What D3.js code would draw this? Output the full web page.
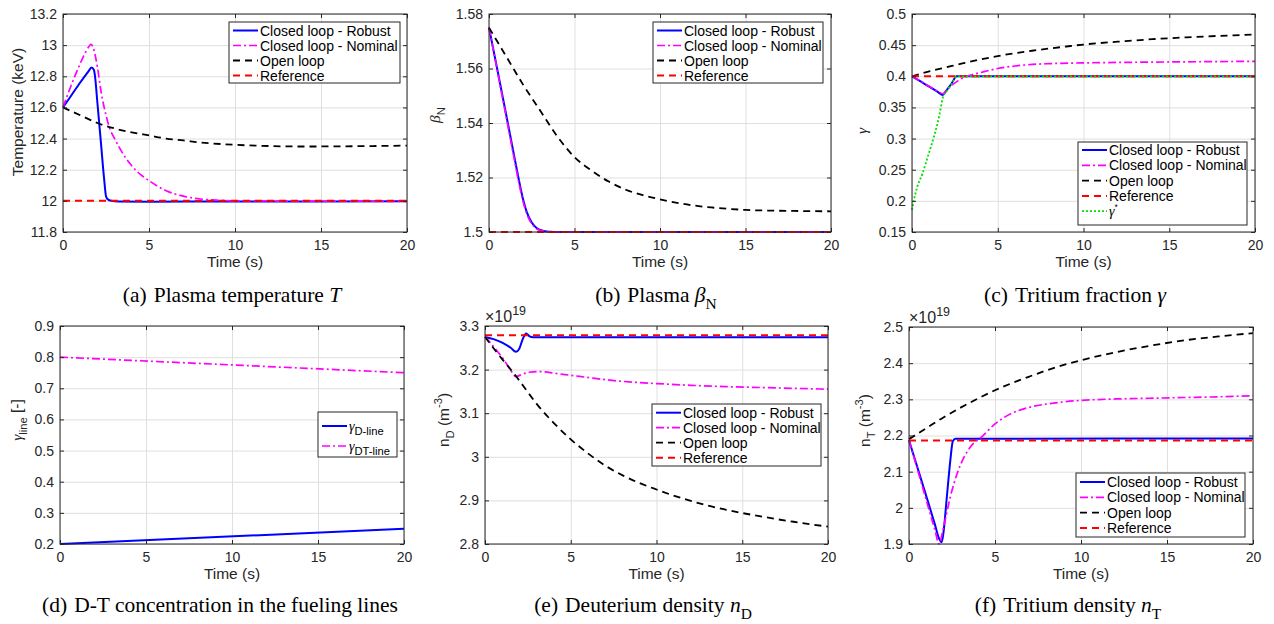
<!DOCTYPE html>
<html><head><meta charset="utf-8">
<script src="https://cdn.jsdelivr.net/npm/d3@7"></script>
<style>body{margin:0;background:#fff;} svg{display:block;}</style>
</head><body>
<svg id="chart" width="1274" height="624"></svg>
<script>
// ---------------- DATA ----------------
const timeTicks = [0, 5, 10, 15, 20];

// (a) Plasma temperature (keV)
const tempTicks = [11.8, 12, 12.2, 12.4, 12.6, 12.8, 13, 13.2];
const tempRobust = [[0,12.6],[0.5,12.68],[1.0,12.76],[1.5,12.835],[1.65,12.857],[1.8,12.84],[1.85,12.81],[2.0,12.63],[2.2,12.38],[2.4,12.13],[2.5,12.03],[2.6,12.01],[2.8,12.0],[3.2,11.996],[5,11.995],[10,11.996],[20,11.997]];
const tempNominal = [[0,12.6],[0.4,12.72],[0.8,12.83],[1.2,12.93],[1.5,12.99],[1.62,13.005],[1.75,12.985],[2.0,12.86],[2.2,12.71],[2.5,12.55],[2.7,12.47],[3.0,12.4],[3.5,12.3],[4,12.225],[4.5,12.17],[5,12.13],[6,12.065],[7,12.03],[8,12.012],[9,12.004],[10,12.0],[20,11.997]];
const tempOpen = [[0,12.6],[1,12.55],[2,12.5],[3,12.465],[4,12.44],[5,12.42],[6,12.4],[7,12.388],[8,12.375],[10,12.36],[12,12.352],[14,12.349],[16,12.35],[18,12.352],[20,12.355]];
const tempRef = [[0,12],[20,12]];

// (b) Plasma beta_N
const betaTicks = [1.5, 1.52, 1.54, 1.56, 1.58];
const betaRobust = [[0,1.575],[0.5,1.5592],[1.0,1.5432],[1.5,1.527],[1.8,1.5175],[2.0,1.5118],[2.2,1.5075],[2.5,1.5035],[2.8,1.5014],[3.2,1.5004],[3.6,1.5001],[4,1.5],[20,1.5]];
const betaNominal = [[0,1.575],[0.5,1.5588],[1.0,1.5425],[1.5,1.526],[1.8,1.5165],[2.0,1.511],[2.2,1.5068],[2.5,1.503],[2.8,1.5011],[3.2,1.5003],[3.6,1.5],[20,1.5]];
const betaOpen = [[0,1.575],[1,1.5645],[2,1.554],[3,1.5445],[4,1.535],[5,1.5275],[6,1.5225],[7,1.5185],[8,1.5155],[9,1.5135],[10,1.512],[11,1.5107],[12,1.5097],[13,1.509],[14,1.5085],[15,1.5081],[17,1.5078],[20,1.5076]];
const betaRef = [[0,1.5],[20,1.5]];

// (c) Tritium fraction gamma
const gammaTicks = [0.15, 0.2, 0.25, 0.3, 0.35, 0.4, 0.45, 0.5];
const gammaRobust = [[0,0.4],[0.5,0.3917],[1.0,0.3833],[1.5,0.375],[1.8,0.37],[2.0,0.377],[2.3,0.388],[2.6,0.4],[20,0.4]];
const gammaNominal = [[0,0.4],[0.5,0.392],[1.0,0.384],[1.5,0.376],[1.8,0.372],[2.0,0.377],[2.3,0.385],[2.7,0.393],[3.0,0.398],[3.5,0.4025],[4,0.406],[5,0.4125],[6,0.4165],[7,0.419],[8,0.4203],[10,0.4215],[13,0.4225],[16,0.4232],[20,0.424]];
const gammaOpen = [[0,0.4],[1,0.408],[2,0.4145],[3,0.421],[4,0.427],[5,0.4325],[6,0.437],[7,0.441],[8,0.4445],[9,0.4478],[10,0.451],[12,0.4555],[14,0.4595],[16,0.4625],[18,0.465],[20,0.467]];
const gammaRef = [[0,0.4],[20,0.4]];
const gammaStar = [[0,0.185],[0.1,0.2],[0.3,0.222],[0.6,0.243],[1.0,0.278],[1.3,0.305],[1.6,0.338],[1.8,0.366],[2.0,0.375],[2.3,0.387],[2.6,0.4],[20,0.4]];

// (d) D-T concentration in the fueling lines
const lineTicks = [0.2, 0.3, 0.4, 0.5, 0.6, 0.7, 0.8, 0.9];
const lineD = [[0,0.2],[20,0.249]];
const lineDT = [[0,0.8],[20,0.75]];

// (e) Deuterium density (x1e19 m^-3)
const nDTicks = [2.8, 2.9, 3, 3.1, 3.2, 3.3];
const nDRobust = [[0,3.275],[0.5,3.27],[1.0,3.262],[1.5,3.25],[1.8,3.241],[2.0,3.248],[2.2,3.27],[2.4,3.283],[2.6,3.276],[2.8,3.274],[20,3.274]];
const nDNominal = [[0,3.275],[0.3,3.262],[0.6,3.248],[1.0,3.228],[1.4,3.205],[1.8,3.184],[2.2,3.19],[2.6,3.194],[3,3.1955],[3.5,3.195],[4,3.192],[5,3.187],[6,3.182],[7,3.177],[8,3.173],[10,3.168],[12,3.164],[14,3.161],[16,3.159],[18,3.157],[20,3.155]];
const nDOpen = [[0,3.275],[0.5,3.249],[1,3.224],[1.5,3.2],[2,3.175],[2.5,3.148],[3,3.122],[4,3.078],[5,3.04],[6,3.008],[7,2.98],[8,2.958],[9,2.94],[10,2.925],[11,2.911],[12,2.899],[13,2.888],[14,2.879],[15,2.871],[16,2.864],[17,2.857],[18,2.851],[19,2.845],[20,2.84]];
const nDRef = [[0,3.279],[20,3.279]];

// (f) Tritium density (x1e19 m^-3)
const nTTicks = [1.9, 2, 2.1, 2.2, 2.3, 2.4, 2.5];
const nTRobust = [[0,2.187],[0.5,2.11],[1.0,2.033],[1.5,1.955],[1.75,1.915],[1.9,1.905],[2.0,1.93],[2.2,2.03],[2.4,2.13],[2.55,2.185],[2.7,2.191],[20,2.192]];
const nTNominal = [[0,2.187],[0.5,2.105],[1.0,2.022],[1.5,1.94],[1.75,1.9],[2.0,1.945],[2.4,2.03],[2.8,2.095],[3.2,2.14],[3.6,2.17],[4.2,2.195],[5,2.232],[6,2.262],[7,2.278],[8,2.287],[9,2.293],[10,2.297],[12,2.301],[14,2.303],[16,2.305],[18,2.307],[20,2.31]];
const nTOpen = [[0,2.19],[1,2.22],[2,2.25],[3,2.277],[4,2.302],[5,2.325],[6,2.345],[7,2.363],[8,2.38],[9,2.395],[10,2.408],[12,2.43],[14,2.448],[16,2.463],[18,2.474],[20,2.483]];
const nTRef = [[0,2.186],[20,2.186]];

// Legend / caption labels
const labRobust = "Closed loop - Robust";
const labNominal = "Closed loop - Nominal";
const labOpen = "Open loop";
const labRef = "Reference";

// ---------------- STYLES ----------------
const STY = {
  robust:  {color:"#0000ff", dash:null, w:2},
  nominal: {color:"#ff00ff", dash:"8,3,2,3", w:1.7},
  open:    {color:"#000000", dash:"7,5", w:1.8},
  ref:     {color:"#ff0000", dash:"7,5", w:2},
  star:    {color:"#00e000", dash:"2,2", w:1.8}
};
const SANS = "'Liberation Sans', Arial, Helvetica, sans-serif";
const SERIF = "'Liberation Serif', 'Times New Roman', serif";
const AX = "#262626";
const LBL = 15.5;
const fmt = d => String(+d.toFixed(3));

const svg = d3.select("#chart");

function rich(sel, parts, base) {
  let shift = 0;
  parts.forEach(p => {
    const target = p.sub ? base * 0.32 : p.sup ? -base * 0.45 : 0;
    const ts = sel.append("tspan").text(p.t).attr("dy", target - shift);
    shift = target;
    if (p.sub || p.sup) ts.attr("font-size", base * (p.scale || 0.72));
    if (p.it) ts.attr("font-style", "italic");
    if (p.dx) ts.attr("dx", p.dx);
    if (p.fam) ts.attr("font-family", p.fam);
  });
}

function panel(c) {
  const g = svg.append("g");
  const x = d3.scaleLinear().domain([0, 20]).range([c.L, c.R]);
  const y = d3.scaleLinear().domain([c.yTicks[0], c.yTicks[c.yTicks.length - 1]]).range([c.B, c.T]);

  // grid
  g.append("g").attr("transform", `translate(0,${c.B})`)
    .call(d3.axisBottom(x).tickValues(timeTicks).tickSize(-(c.B - c.T)).tickFormat(""))
    .call(s => { s.select(".domain").remove(); s.selectAll("line").attr("stroke", "#dfdfdf"); });
  g.append("g").attr("transform", `translate(${c.L},0)`)
    .call(d3.axisLeft(y).tickValues(c.yTicks).tickSize(-(c.R - c.L)).tickFormat(""))
    .call(s => { s.select(".domain").remove(); s.selectAll("line").attr("stroke", "#dfdfdf"); });

  // series
  const line = d3.line().x(d => x(d[0])).y(d => y(d[1])).curve(d3.curveMonotoneX);
  c.series.forEach(s => {
    const st = STY[s.style];
    g.append("path").datum(s.data).attr("d", line).attr("fill", "none")
      .attr("stroke", st.color).attr("stroke-width", st.w)
      .attr("stroke-dasharray", st.dash).attr("stroke-linejoin", "round");
  });

  // axes (ticks inward on all sides)
  const styleAx = s => {
    s.select(".domain").remove();
    s.selectAll("line").attr("stroke", AX);
    s.selectAll("text").attr("fill", AX).attr("font-family", SANS).attr("font-size", 14);
  };
  g.append("g").attr("transform", `translate(0,${c.B})`)
    .call(d3.axisBottom(x).tickValues(timeTicks).tickSize(-4).tickPadding(8).tickFormat(fmt)).call(styleAx);
  g.append("g").attr("transform", `translate(0,${c.T})`)
    .call(d3.axisTop(x).tickValues(timeTicks).tickSize(-4).tickFormat("")).call(styleAx);
  g.append("g").attr("transform", `translate(${c.L},0)`)
    .call(d3.axisLeft(y).tickValues(c.yTicks).tickSize(-4).tickPadding(6).tickFormat(fmt)).call(styleAx);
  g.append("g").attr("transform", `translate(${c.R},0)`)
    .call(d3.axisRight(y).tickValues(c.yTicks).tickSize(-4).tickFormat("")).call(styleAx);
  g.append("rect").attr("x", c.L).attr("y", c.T).attr("width", c.R - c.L).attr("height", c.B - c.T)
    .attr("fill", "none").attr("stroke", AX).attr("stroke-width", 1);

  // x label
  g.append("text").attr("x", (c.L + c.R) / 2).attr("y", c.B + 35).attr("text-anchor", "middle")
    .attr("font-family", SANS).attr("font-size", LBL).attr("fill", AX).text("Time (s)");

  // y label
  const yl = g.append("text").attr("transform", `translate(${c.ylX},${(c.T + c.B) / 2 + (c.ylDy || 0)}) rotate(-90)`)
    .attr("text-anchor", "middle").attr("font-family", SANS).attr("font-size", LBL).attr("fill", AX);
  rich(yl, c.ylabel, LBL);

  // exponent
  if (c.exp) {
    const e = g.append("text").attr("x", c.L).attr("y", c.T - 4).attr("font-family", SANS)
      .attr("font-size", 16).attr("fill", AX);
    rich(e, [{t: "×10"}, {t: "19", sup: true, scale: 0.78}], 16);
  }

  // legend
  const lg = c.legend;
  const G = g.append("g");
  G.append("rect").attr("x", lg.x).attr("y", lg.y).attr("width", lg.w).attr("height", lg.h)
    .attr("fill", "#fff").attr("stroke", AX).attr("stroke-width", 1);
  lg.items.forEach((it, i) => {
    const cy = lg.y + lg.pad + i * lg.step;
    const st = STY[it.style];
    G.append("line").attr("x1", lg.x + 4).attr("x2", lg.x + lg.lineW).attr("y1", cy).attr("y2", cy)
      .attr("stroke", st.color).attr("stroke-width", st.w).attr("stroke-dasharray", st.dash);
    const t = G.append("text").attr("x", lg.x + lg.lineW + 2).attr("y", cy + 5)
      .attr("font-family", SANS).attr("font-size", 14).attr("fill", "#000");
    rich(t, it.label, 14);
  });

  // caption
  const cap = g.append("text").attr("x", c.capX).attr("y", c.capY).attr("text-anchor", "middle")
    .attr("font-family", SERIF).attr("font-size", 21.5).attr("fill", "#000");
  rich(cap, c.caption, 21.5);
}

const stdItems = [
  {style: "robust", label: [{t: labRobust}]},
  {style: "nominal", label: [{t: labNominal}]},
  {style: "open", label: [{t: labOpen}]},
  {style: "ref", label: [{t: labRef}]}
];

panel({
  L: 63, R: 407, T: 14, B: 232, yTicks: tempTicks, ylX: 23, ylDy: -11,
  ylabel: [{t: "Temperature (keV)"}],
  series: [{style: "robust", data: tempRobust}, {style: "nominal", data: tempNominal}, {style: "open", data: tempOpen}, {style: "ref", data: tempRef}],
  legend: {x: 229, y: 22, w: 171, h: 61, pad: 8.5, step: 15, lineW: 29, items: stdItems},
  caption: [{t: "(a)"}, {t: "Plasma temperature ", dx: 7}, {t: "T", it: true}], capX: 232, capY: 302
});

panel({
  L: 489, R: 831, T: 14, B: 232, yTicks: betaTicks, ylX: 440, ylDy: -8,
  ylabel: [{t: "β", it: true, fam: SERIF}, {t: "N", sub: true}],
  series: [{style: "robust", data: betaRobust}, {style: "nominal", data: betaNominal}, {style: "open", data: betaOpen}, {style: "ref", data: betaRef}],
  legend: {x: 653, y: 22, w: 170, h: 61, pad: 8.5, step: 15, lineW: 29, items: stdItems},
  caption: [{t: "(b)"}, {t: "Plasma ", dx: 7}, {t: "β", it: true}, {t: "N", sub: true}], capX: 656, capY: 302
});

panel({
  L: 912, R: 1255, T: 14, B: 232, yTicks: gammaTicks, ylX: 867, ylDy: 8,
  ylabel: [{t: "γ", it: true, fam: SERIF}],
  series: [{style: "robust", data: gammaRobust}, {style: "nominal", data: gammaNominal}, {style: "open", data: gammaOpen}, {style: "ref", data: gammaRef}, {style: "star", data: gammaStar}],
  legend: {x: 1078, y: 142, w: 169, h: 83, pad: 8, step: 15.3, lineW: 29,
    items: stdItems.concat([{style: "star", label: [{t: "γ", it: true, fam: SERIF}, {t: "*", sup: true, scale: 0.6}]}])},
  caption: [{t: "(c)"}, {t: "Tritium fraction ", dx: 7}, {t: "γ", it: true}], capX: 1075, capY: 302
});

panel({
  L: 60, R: 404, T: 326, B: 544, yTicks: lineTicks, ylX: 22, ylDy: -15,
  ylabel: [{t: "γ", it: true, fam: SERIF}, {t: "line", sub: true}, {t: " [-]"}],
  series: [{style: "robust", data: lineD}, {style: "nominal", data: lineDT}],
  legend: {x: 318, y: 412, w: 79, h: 45, pad: 14, step: 20, lineW: 29,
    items: [{style: "robust", label: [{t: "γ", it: true, fam: SERIF}, {t: "D-line", sub: true, scale: 0.8}]},
            {style: "nominal", label: [{t: "γ", it: true, fam: SERIF}, {t: "DT-line", sub: true, scale: 0.8}]}]},
  caption: [{t: "(d)"}, {t: "D-T concentration in the fueling lines", dx: 7}], capX: 220, capY: 612
});

panel({
  L: 485, R: 828, T: 326, B: 544, yTicks: nDTicks, ylX: 449, ylDy: -15,
  exp: true,
  ylabel: [{t: "n"}, {t: "D", sub: true}, {t: " (m"}, {t: "-3", sup: true}, {t: ")"}],
  series: [{style: "robust", data: nDRobust}, {style: "nominal", data: nDNominal}, {style: "open", data: nDOpen}, {style: "ref", data: nDRef}],
  legend: {x: 652, y: 404, w: 169, h: 62, pad: 8.7, step: 15, lineW: 29, items: stdItems},
  caption: [{t: "(e)"}, {t: "Deuterium density ", dx: 7}, {t: "n", it: true}, {t: "D", sub: true}], capX: 643, capY: 612
});

panel({
  L: 909, R: 1253, T: 327, B: 544, yTicks: nTTicks, ylX: 870, ylDy: -15,
  exp: true,
  ylabel: [{t: "n"}, {t: "T", sub: true}, {t: " (m"}, {t: "-3", sup: true}, {t: ")"}],
  series: [{style: "robust", data: nTRobust}, {style: "nominal", data: nTNominal}, {style: "open", data: nTOpen}, {style: "ref", data: nTRef}],
  legend: {x: 1076, y: 473, w: 169, h: 64, pad: 9, step: 15.3, lineW: 29, items: stdItems},
  caption: [{t: "(f)"}, {t: "Tritium density ", dx: 7}, {t: "n", it: true}, {t: "T", sub: true}], capX: 1068, capY: 612
});
</script>
</body></html>
